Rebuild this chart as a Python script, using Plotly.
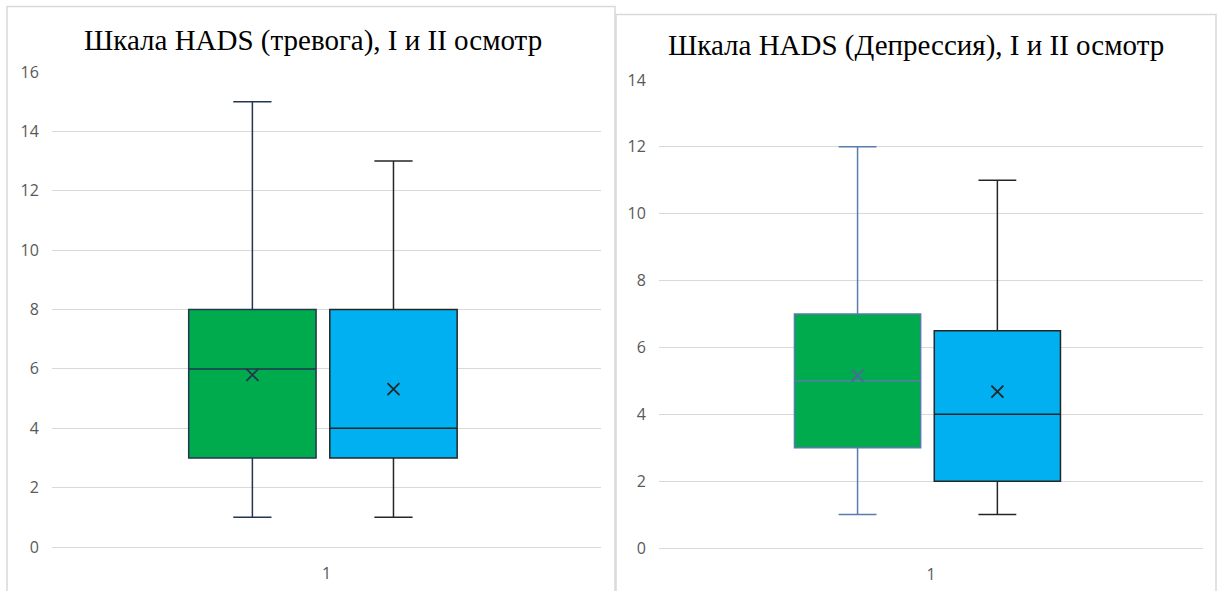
import plotly.graph_objects as go

W, H = 1220, 591

# ---- data ----
categories = ["1"]
series_names = ["I осмотр", "II осмотр"]
anx_title = "Шкала HADS (тревога), I и II осмотр"
dep_title = "Шкала HADS (Депрессия), I и II осмотр"

anx_min = [1, 1]
anx_q1 = [3, 3]
anx_med = [6, 4]
anx_q3 = [8, 8]
anx_max = [15, 13]
anx_mean = [5.8, 5.32]

dep_min = [1, 1]
dep_q1 = [3, 2]
dep_med = [5, 4]
dep_q3 = [7, 6.5]
dep_max = [12, 11]
dep_mean = [5.16, 4.68]

# ---- style ----
fills = ["#00AB4E", "#00B0F0"]
anx_lines = ["#24354F", "#262626"]
dep_lines = ["#5A7BAE", "#262626"]
mean_cols = [["#24354F", "#262626"], ["#4A6A9A", "#262626"]]
offsets = [-0.135, 0.122]
box_w = 0.232
grid = "#D9D9D9"
tickc = "#595959"


def px_x(p):
    return p / W


def px_y(p):
    return 1 - p / H


fig = go.Figure()

panels = [
    dict(mn=anx_min, q1=anx_q1, md=anx_med, q3=anx_q3, mx=anx_max, mean=anx_mean,
         lines=anx_lines, xa="x", ya="y", mc=mean_cols[0]),
    dict(mn=dep_min, q1=dep_q1, md=dep_med, q3=dep_q3, mx=dep_max, mean=dep_mean,
         lines=dep_lines, xa="x2", ya="y2", mc=mean_cols[1]),
]

for p in panels:
    for i in range(2):
        xpos = 1 + offsets[i]
        fig.add_trace(go.Box(
            x=[xpos], q1=[p["q1"][i]], median=[p["md"][i]], q3=[p["q3"][i]],
            lowerfence=[p["mn"][i]], upperfence=[p["mx"][i]],
            width=box_w, whiskerwidth=0.3,
            fillcolor=fills[i], line=dict(color=p["lines"][i], width=1.5),
            name=series_names[i], showlegend=False, boxpoints=False,
            xaxis=p["xa"], yaxis=p["ya"], hoverinfo="skip",
        ))
        fig.add_trace(go.Scatter(
            x=[xpos], y=[p["mean"][i]], mode="markers",
            marker=dict(symbol="x-thin", size=12,
                        line=dict(color=p["mc"][i], width=1.8)),
            showlegend=False, xaxis=p["xa"], yaxis=p["ya"], hoverinfo="skip",
        ))

# panel frames
fig.add_shape(type="rect", xref="paper", yref="paper",
              x0=px_x(7), x1=px_x(615), y0=px_y(600), y1=px_y(6.5),
              line=dict(color="#D9D9D9", width=1.5), layer="below")
fig.add_shape(type="rect", xref="paper", yref="paper",
              x0=px_x(616), x1=px_x(1216), y0=px_y(600), y1=px_y(14.5),
              line=dict(color="#D9D9D9", width=1.5), layer="below")

xcommon = dict(range=[0.5, 1.5], tickmode="array", tickvals=[1], ticktext=categories,
               showgrid=False, zeroline=False, showline=False, ticks="outside",
               ticklen=12, tickcolor="rgba(0,0,0,0)", automargin=False,
               tickfont=dict(family="Open Sans", size=16, color=tickc), fixedrange=True)
ycommon = dict(dtick=2, showgrid=True, gridcolor=grid, gridwidth=1.3, zeroline=True,
               zerolinecolor=grid, zerolinewidth=1.3, showline=False, ticks="outside",
               ticklen=9, tickcolor="rgba(0,0,0,0)", automargin=False,
               tickfont=dict(family="Open Sans", size=16, color=tickc), fixedrange=True)

fig.update_layout(
    width=W, height=H, autosize=False,
    margin=dict(l=0, r=0, t=0, b=0, pad=0, autoexpand=False),
    paper_bgcolor="white", plot_bgcolor="white",
    showlegend=False,
    xaxis=dict(domain=[px_x(52), px_x(601)], anchor="y", **xcommon),
    yaxis=dict(domain=[px_y(547), px_y(72)], range=[0, 16], anchor="x", **ycommon),
    xaxis2=dict(domain=[px_x(659), px_x(1203)], anchor="y2", **xcommon),
    yaxis2=dict(domain=[px_y(548), px_y(80)], range=[0, 14], anchor="x2", **ycommon),
    annotations=[
        dict(text=anx_title, x=px_x(313), y=px_y(40), xref="paper", yref="paper",
             showarrow=False, xanchor="center", yanchor="middle",
             font=dict(family="Liberation Serif", size=29, color="#000000")),
        dict(text=dep_title, x=px_x(916), y=px_y(45), xref="paper", yref="paper",
             showarrow=False, xanchor="center", yanchor="middle",
             font=dict(family="Liberation Serif", size=29, color="#000000")),
    ],
)

fig.write_html("out.html", config={"displayModeBar": False},
               post_script="document.body.style.margin='0';document.body.style.overflow='hidden';")
